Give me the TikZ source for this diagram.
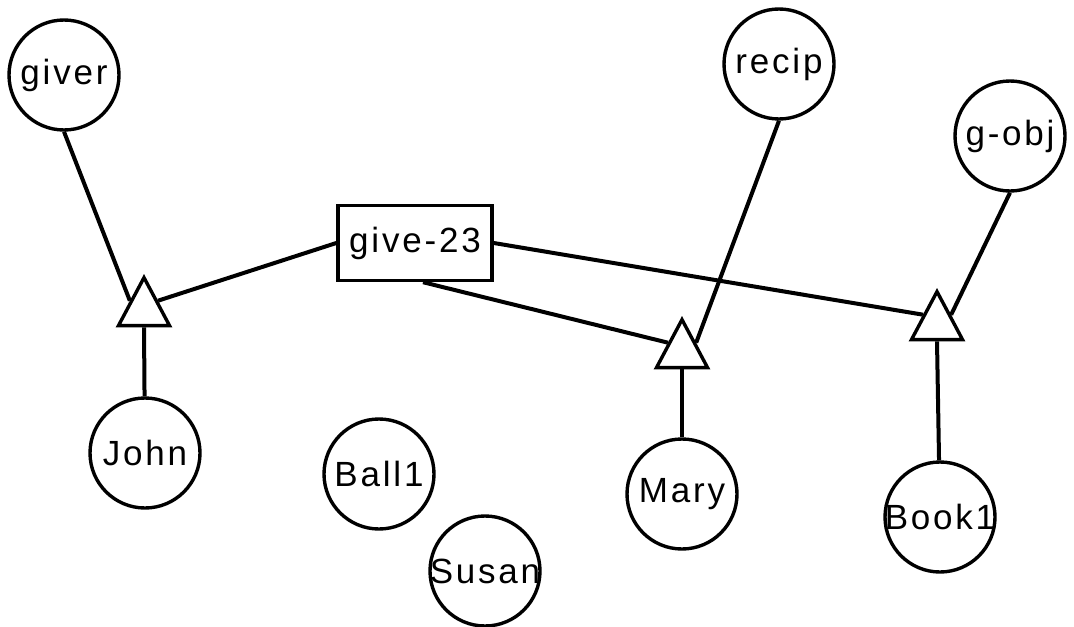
\documentclass[tikz,border=0pt]{standalone}
\usepackage{fontspec}
\setmainfont{Liberation Sans}[LetterSpace=8]
\usetikzlibrary{shapes.geometric}

% label that does not widen its node
\newcommand\lbl[1]{\makebox[0pt]{#1}}

\tikzset{
    slot/.style={circle, draw, line width=1.7pt, minimum size=55pt, inner sep=0pt,
        font=\fontsize{17.5}{19}\selectfont},
    instbox/.style={rectangle, draw, line width=1.7pt, minimum width=77pt,
        minimum height=37.5pt, inner sep=0pt, font=\fontsize{17.5}{19}\selectfont},
    tri/.style={isosceles triangle, isosceles triangle apex angle=56,
        shape border rotate=90, draw, line width=1.7pt, minimum size=24pt,
        inner sep=0pt, anchor=apex},
    link/.style={line width=2pt}
}

\begin{document}
\begin{tikzpicture}[x=0.5pt, y=-0.5pt]
\useasboundingbox (0,0) rectangle (1074,626);
% roles and entities
\foreach \n/\t/\p in {giver/giver/{(64,75)}, recip/recip/{(779,64)}, gobj/g-obj/{(1010,136)},
        john/John/{(145,453)}, ball/Ball1/{(379,474)}, mary/Mary/{(682,494)},
        book/Book1/{(940,517)}, susan/Susan/{(485,571)}} {
    \node[slot] (\n) at \p {\lbl{\t}};
}
\node[instbox] (give) at (415,243) {give-23};
% role fillers
\node[tri] (t1) at (144,274) {};
\node[tri] (t2) at (682,316) {};
\node[tri] (t3) at (937,288) {};

\draw[link] (giver.south) -- (t1.left side);
\draw[link] (t1.right side) -- (give.west);
\draw[link] ([xshift=4pt]give.south) -- (t2.left side);
\draw[link] (give.east) -- (t3.left side);
\draw[link] (recip.south) -- (t2.right side);
\draw[link] (gobj.south) -- (t3.right side);
\foreach \a/\b in {t1/john, t2/mary, t3/book}
    \draw[link] (\a.lower side) -- (\b);
\end{tikzpicture}
\end{document}
